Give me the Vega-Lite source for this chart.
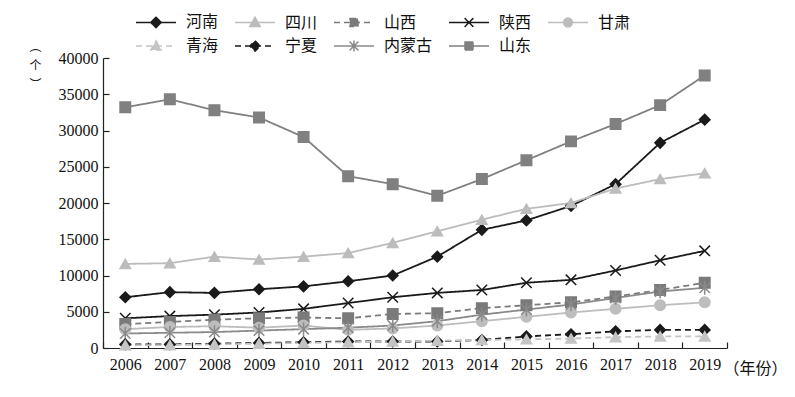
{
  "$schema": "https://vega.github.io/schema/vega-lite/v6.json",
  "width": 624,
  "height": 290,
  "autosize": {"type": "none"},
  "padding": {"left": 103, "top": 58, "right": 68, "bottom": 49},
  "background": "white",
  "config": {
    "view": {"stroke": null},
    "axis": {"grid": false, "domainColor": "#222", "tickColor": "#222", "domainWidth": 1.2, "tickWidth": 1.2, "labelColor": "#111", "titleColor": "#111", "labelFont": "Liberation Serif", "labelFontSize": 16, "titleFontWeight": "normal"},
    "legend": {"orient": "none", "legendX": 25, "legendY": -44, "direction": "horizontal", "columns": 5, "columnPadding": 8, "rowPadding": 6, "labelFont": "Noto Sans CJK SC", "labelFontSize": 16, "labelColor": "#111", "symbolSize": 64, "symbolStrokeWidth": 1.5, "symbolOffset": 20, "labelOffset": 22}
  },
  "resolve": {"scale": {"shape": "independent", "fill": "independent", "stroke": "independent", "strokeDash": "independent"}},
  "data": {"values": [
    {"year": "2006", "province": "山东", "value": 33200}, {"year": "2007", "province": "山东", "value": 34300}, {"year": "2008", "province": "山东", "value": 32800}, {"year": "2009", "province": "山东", "value": 31800}, {"year": "2010", "province": "山东", "value": 29100}, {"year": "2011", "province": "山东", "value": 23700}, {"year": "2012", "province": "山东", "value": 22600}, {"year": "2013", "province": "山东", "value": 21000}, {"year": "2014", "province": "山东", "value": 23300}, {"year": "2015", "province": "山东", "value": 25900}, {"year": "2016", "province": "山东", "value": 28500}, {"year": "2017", "province": "山东", "value": 30900}, {"year": "2018", "province": "山东", "value": 33500}, {"year": "2019", "province": "山东", "value": 37600},
    {"year": "2006", "province": "河南", "value": 7000}, {"year": "2007", "province": "河南", "value": 7700}, {"year": "2008", "province": "河南", "value": 7600}, {"year": "2009", "province": "河南", "value": 8100}, {"year": "2010", "province": "河南", "value": 8500}, {"year": "2011", "province": "河南", "value": 9200}, {"year": "2012", "province": "河南", "value": 10000}, {"year": "2013", "province": "河南", "value": 12600}, {"year": "2014", "province": "河南", "value": 16300}, {"year": "2015", "province": "河南", "value": 17600}, {"year": "2016", "province": "河南", "value": 19600}, {"year": "2017", "province": "河南", "value": 22600}, {"year": "2018", "province": "河南", "value": 28300}, {"year": "2019", "province": "河南", "value": 31500},
    {"year": "2006", "province": "四川", "value": 11600}, {"year": "2007", "province": "四川", "value": 11700}, {"year": "2008", "province": "四川", "value": 12600}, {"year": "2009", "province": "四川", "value": 12200}, {"year": "2010", "province": "四川", "value": 12600}, {"year": "2011", "province": "四川", "value": 13100}, {"year": "2012", "province": "四川", "value": 14500}, {"year": "2013", "province": "四川", "value": 16100}, {"year": "2014", "province": "四川", "value": 17700}, {"year": "2015", "province": "四川", "value": 19200}, {"year": "2016", "province": "四川", "value": 20000}, {"year": "2017", "province": "四川", "value": 22000}, {"year": "2018", "province": "四川", "value": 23300}, {"year": "2019", "province": "四川", "value": 24100},
    {"year": "2006", "province": "陕西", "value": 4100}, {"year": "2007", "province": "陕西", "value": 4400}, {"year": "2008", "province": "陕西", "value": 4600}, {"year": "2009", "province": "陕西", "value": 4900}, {"year": "2010", "province": "陕西", "value": 5400}, {"year": "2011", "province": "陕西", "value": 6200}, {"year": "2012", "province": "陕西", "value": 7000}, {"year": "2013", "province": "陕西", "value": 7600}, {"year": "2014", "province": "陕西", "value": 8000}, {"year": "2015", "province": "陕西", "value": 9000}, {"year": "2016", "province": "陕西", "value": 9400}, {"year": "2017", "province": "陕西", "value": 10700}, {"year": "2018", "province": "陕西", "value": 12100}, {"year": "2019", "province": "陕西", "value": 13400},
    {"year": "2006", "province": "山西", "value": 3300}, {"year": "2007", "province": "山西", "value": 3600}, {"year": "2008", "province": "山西", "value": 3900}, {"year": "2009", "province": "山西", "value": 4100}, {"year": "2010", "province": "山西", "value": 4200}, {"year": "2011", "province": "山西", "value": 4100}, {"year": "2012", "province": "山西", "value": 4700}, {"year": "2013", "province": "山西", "value": 4800}, {"year": "2014", "province": "山西", "value": 5500}, {"year": "2015", "province": "山西", "value": 5900}, {"year": "2016", "province": "山西", "value": 6300}, {"year": "2017", "province": "山西", "value": 7100}, {"year": "2018", "province": "山西", "value": 8000}, {"year": "2019", "province": "山西", "value": 9000},
    {"year": "2006", "province": "甘肃", "value": 2600}, {"year": "2007", "province": "甘肃", "value": 2900}, {"year": "2008", "province": "甘肃", "value": 3000}, {"year": "2009", "province": "甘肃", "value": 2800}, {"year": "2010", "province": "甘肃", "value": 3100}, {"year": "2011", "province": "甘肃", "value": 2500}, {"year": "2012", "province": "甘肃", "value": 2700}, {"year": "2013", "province": "甘肃", "value": 3100}, {"year": "2014", "province": "甘肃", "value": 3700}, {"year": "2015", "province": "甘肃", "value": 4300}, {"year": "2016", "province": "甘肃", "value": 4900}, {"year": "2017", "province": "甘肃", "value": 5400}, {"year": "2018", "province": "甘肃", "value": 5900}, {"year": "2019", "province": "甘肃", "value": 6300},
    {"year": "2006", "province": "内蒙古", "value": 2000}, {"year": "2007", "province": "内蒙古", "value": 2100}, {"year": "2008", "province": "内蒙古", "value": 2200}, {"year": "2009", "province": "内蒙古", "value": 2400}, {"year": "2010", "province": "内蒙古", "value": 2600}, {"year": "2011", "province": "内蒙古", "value": 2800}, {"year": "2012", "province": "内蒙古", "value": 3100}, {"year": "2013", "province": "内蒙古", "value": 3700}, {"year": "2014", "province": "内蒙古", "value": 4600}, {"year": "2015", "province": "内蒙古", "value": 5300}, {"year": "2016", "province": "内蒙古", "value": 6000}, {"year": "2017", "province": "内蒙古", "value": 6900}, {"year": "2018", "province": "内蒙古", "value": 7800}, {"year": "2019", "province": "内蒙古", "value": 8300},
    {"year": "2006", "province": "宁夏", "value": 500}, {"year": "2007", "province": "宁夏", "value": 500}, {"year": "2008", "province": "宁夏", "value": 600}, {"year": "2009", "province": "宁夏", "value": 700}, {"year": "2010", "province": "宁夏", "value": 800}, {"year": "2011", "province": "宁夏", "value": 900}, {"year": "2012", "province": "宁夏", "value": 900}, {"year": "2013", "province": "宁夏", "value": 900}, {"year": "2014", "province": "宁夏", "value": 1100}, {"year": "2015", "province": "宁夏", "value": 1600}, {"year": "2016", "province": "宁夏", "value": 1900}, {"year": "2017", "province": "宁夏", "value": 2300}, {"year": "2018", "province": "宁夏", "value": 2500}, {"year": "2019", "province": "宁夏", "value": 2500},
    {"year": "2006", "province": "青海", "value": 400}, {"year": "2007", "province": "青海", "value": 400}, {"year": "2008", "province": "青海", "value": 500}, {"year": "2009", "province": "青海", "value": 600}, {"year": "2010", "province": "青海", "value": 700}, {"year": "2011", "province": "青海", "value": 800}, {"year": "2012", "province": "青海", "value": 900}, {"year": "2013", "province": "青海", "value": 1000}, {"year": "2014", "province": "青海", "value": 1100}, {"year": "2015", "province": "青海", "value": 1200}, {"year": "2016", "province": "青海", "value": 1300}, {"year": "2017", "province": "青海", "value": 1500}, {"year": "2018", "province": "青海", "value": 1600}, {"year": "2019", "province": "青海", "value": 1600}
  ]},
  "encoding": {
    "x": {"field": "year", "type": "ordinal", "scale": {"type": "band", "paddingInner": 0, "paddingOuter": 0},
      "axis": {"labelAngle": 0, "tickBand": "extent", "tickSize": -6, "labelPadding": 14, "title": "（年份）", "titleFont": "Noto Sans CJK SC", "titleFontSize": 16, "titleAlign": "left", "titleBaseline": "middle", "titleAnchor": null, "titleX": 620, "titleY": 20}},
    "y": {"field": "value", "type": "quantitative", "scale": {"domain": [0, 40000], "nice": false},
      "axis": {"values": [0, 5000, 10000, 15000, 20000, 25000, 30000, 35000, 40000], "format": "d", "tickSize": -6, "labelPadding": 11, "title": ["︵", "个", "︶"], "titleAngle": 0, "titleFont": "Noto Sans CJK SC", "titleFontSize": 12, "titleLineHeight": 19, "titleAlign": "center", "titleBaseline": "top", "titleAnchor": null, "titleX": -68, "titleY": -17}}
  },
  "layer": [
    {
      "mark": {"type": "line", "strokeWidth": 1.8},
      "encoding": {
        "stroke": {"field": "province", "type": "nominal", "legend": null,
          "scale": {"domain": ["河南", "四川", "山西", "陕西", "甘肃", "青海", "宁夏", "内蒙古", "山东"], "range": ["#1a1a1a", "#bcbcbc", "#7a7a7a", "#1a1a1a", "#bdbdbd", "#c4c4c4", "#1a1a1a", "#8a8a8a", "#808080"]}},
        "strokeDash": {"field": "province", "type": "nominal", "legend": null,
          "scale": {"domain": ["河南", "四川", "山西", "陕西", "甘肃", "青海", "宁夏", "内蒙古", "山东"], "range": [[1, 0], [1, 0], [6, 4], [1, 0], [1, 0], [6, 4], [6, 4], [1, 0], [1, 0]]}}
      }
    },
    {
      "mark": {"type": "point", "filled": true, "size": 110, "strokeWidth": 1.5, "opacity": 1},
      "encoding": {
        "fill": {"field": "province", "type": "nominal", "legend": null,
          "scale": {"domain": ["河南", "四川", "山西", "陕西", "甘肃", "青海", "宁夏", "内蒙古", "山东"], "range": ["#1a1a1a", "#bcbcbc", "#7a7a7a", "#1a1a1a", "#bdbdbd", "#c4c4c4", "#1a1a1a", "#8a8a8a", "#808080"]}},
        "stroke": {"field": "province", "type": "nominal", "legend": null,
          "scale": {"domain": ["河南", "四川", "山西", "陕西", "甘肃", "青海", "宁夏", "内蒙古", "山东"], "range": ["#1a1a1a", "#bcbcbc", "#7a7a7a", "#1a1a1a", "#bdbdbd", "#c4c4c4", "#1a1a1a", "#8a8a8a", "#808080"]}},
        "shape": {"field": "province", "type": "nominal", "legend": null,
          "scale": {"domain": ["河南", "四川", "山西", "陕西", "甘肃", "青海", "宁夏", "内蒙古", "山东"], "range": ["diamond", "triangle-up", "square", "M-1,-1L1,1M-1,1L1,-1", "circle", "triangle-up", "diamond", "M-1,-1L1,1M-1,1L1,-1M0,-1.3V1.3", "square"]}}
      }
    },
    {
      "transform": [{"filter": "false"}],
      "mark": {"type": "point", "filled": true, "strokeWidth": 1.5, "opacity": 1},
      "encoding": {
        "fill": {"field": "province", "type": "nominal", "legend": {"title": null},
          "scale": {"domain": ["河南", "四川", "山西", "陕西", "甘肃", "青海", "宁夏", "内蒙古", "山东"], "range": ["#1a1a1a", "#bcbcbc", "#7a7a7a", "#1a1a1a", "#bdbdbd", "#c4c4c4", "#1a1a1a", "#8a8a8a", "#808080"]}},
        "stroke": {"field": "province", "type": "nominal", "legend": {"title": null},
          "scale": {"domain": ["河南", "四川", "山西", "陕西", "甘肃", "青海", "宁夏", "内蒙古", "山东"], "range": ["#1a1a1a", "#bcbcbc", "#7a7a7a", "#1a1a1a", "#bdbdbd", "#c4c4c4", "#1a1a1a", "#8a8a8a", "#808080"]}},
        "strokeDash": {"field": "province", "type": "nominal", "legend": {"title": null},
          "scale": {"domain": ["河南", "四川", "山西", "陕西", "甘肃", "青海", "宁夏", "内蒙古", "山东"], "range": [[1, 0], [1, 0], [6, 4], [1, 0], [1, 0], [6, 4], [6, 4], [1, 0], [1, 0]]}},
        "shape": {"field": "province", "type": "nominal", "legend": {"title": null},
          "scale": {"domain": ["河南", "四川", "山西", "陕西", "甘肃", "青海", "宁夏", "内蒙古", "山东"], "range": ["M-5,0H5M0,-1.3L1.3,0L0,1.3L-1.3,0Z", "M-5,0H5M0,-1.3L1.3,1L-1.3,1Z", "M-5,0H5M-1,-1H1V1H-1Z", "M-5,0H5M-1.1,-1.1L1.1,1.1M-1.1,1.1L1.1,-1.1", "M-5,0H5M1.1,0A1.1,1.1,0,1,1,-1.1,0A1.1,1.1,0,1,1,1.1,0Z", "M-5,0H5M0,-1.3L1.3,1L-1.3,1Z", "M-5,0H5M0,-1.3L1.3,0L0,1.3L-1.3,0Z", "M-5,0H5M-1.1,-1.1L1.1,1.1M-1.1,1.1L1.1,-1.1M0,-1.4V1.4", "M-5,0H5M-1,-1H1V1H-1Z"]}}
      }
    }
  ]
}
